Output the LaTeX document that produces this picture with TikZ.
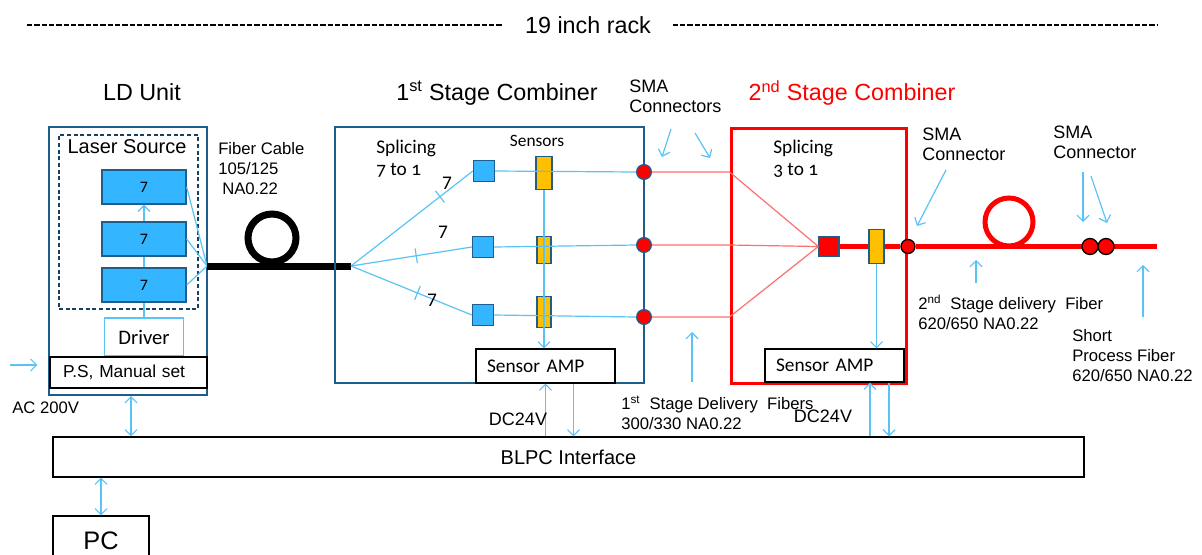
\documentclass[tikz,border=0pt]{standalone}
\usepackage{fontspec}
\setmainfont{Liberation Sans}
\newfontfamily\calfont{Carlito}
\newfontfamily\caloldfont{Carlito}[Numbers=OldStyle]
\usetikzlibrary{arrows.meta}
\definecolor{boxblue}{RGB}{31,93,138}
\definecolor{modblue}{RGB}{51,181,255}
\definecolor{sigblue}{RGB}{90,195,245}
\definecolor{sensyel}{RGB}{255,192,0}
\definecolor{fibred}{RGB}{255,0,0}
\definecolor{fibpink}{RGB}{255,110,110}
\tikzset{
  title/.style={font=\fontsize{17.5}{20}\selectfont,inner sep=0pt},
  lab/.style={font=\fontsize{12.5}{15}\selectfont,align=left,anchor=west,inner sep=0pt},
  cal/.style={font=\calfont\fontsize{14.5}{16.5}\selectfont,inner sep=0pt},
  calold/.style={font=\caloldfont\fontsize{14.5}{16.5}\selectfont,align=left,anchor=west,inner sep=0pt},
  unitbox/.style={draw=boxblue,line width=1.5pt,inner sep=0pt},
  dashbox/.style={draw=boxblue!70!black,line width=0.8pt,dash pattern=on 3pt off 2pt,inner sep=0pt},
  modbox/.style={draw=boxblue,fill=modblue,line width=1pt,inner sep=0pt,minimum width=63pt,minimum height=25.5pt,font=\calfont\fontsize{12}{14}\selectfont},
  drvbox/.style={draw=sigblue,line width=0.9pt,inner sep=0pt,minimum width=59.25pt,minimum height=28.5pt,font=\calfont\fontsize{15.5}{17}\selectfont},
  plainbox/.style={draw=black,fill=white,line width=0.8pt,inner sep=0pt},
  ampbox/.style={plainbox,text width=87.75pt,inner xsep=8.25pt,align=left,minimum height=25.5pt,font=\calfont\fontsize{14.5}{16}\selectfont},
  sqbox/.style={draw=boxblue,fill=modblue,line width=1pt,minimum size=15.75pt,inner sep=0pt},
  sens/.style={draw=boxblue,fill=sensyel,line width=1pt,inner sep=0pt},
  smac/.style={circle,draw=boxblue,fill=fibred,line width=1pt,inner sep=0pt,minimum size=11pt},
  smak/.style={circle,draw=black,fill=fibred,line width=1pt,inner sep=0pt,minimum size=11pt},
  sig/.style={sigblue,line width=0.9pt},
  sigarr/.style={sig,-{Straight Barb[length=4.5pt,width=9pt]}},
  sigboth/.style={sig,{Straight Barb[length=4.5pt,width=9pt]}-{Straight Barb[length=4.5pt,width=9pt]}},
  tickm/.style={draw=sigblue,line width=0.9pt,minimum width=0pt,minimum height=11pt,inner sep=0pt,sloped},
  fibblk/.style={black,line width=5.25pt},
  fibthin/.style={fibpink,line width=0.9pt},
  fibthick/.style={fibred,line width=3.75pt},
  rackdash/.style={black,line width=1.8pt,dash pattern=on 4pt off 1.5pt},
}
\begin{document}
\begin{tikzpicture}[x=0.75pt,y=-0.75pt]
  \useasboundingbox (0,0) rectangle (1202,554);
  % rack
  \node[title,inner xsep=16pt] (rack) at (588,25) {19 inch rack};
  \coordinate (rackL) at (27,25);
  \coordinate (rackR) at (1157,25);
  \draw[rackdash] (rackL) -- (rack.west);
  \draw[rackdash] (rack.east) -- (rackR);
  % LD unit
  \node[title] (ldt) at (142,92) {LD Unit};
  \node[unitbox,minimum width=118.5pt,minimum height=201pt] (ldbox) at (128,261) {};
  \node[dashbox,minimum width=104.25pt,minimum height=130.5pt] (lsbox) at (128.5,222) {};
  \node[font=\fontsize{15}{18}\selectfont,inner sep=0pt] (lstxt) at (127,147) {Laser Source};
  \node[modbox] (ld1) at (144,187) {7};
  \node[modbox] (ld2) at (144,239) {7};
  \node[modbox] (ld3) at (144,285) {7};
  \node[drvbox] (drv) at (144,337) {Driver};
  \node[plainbox,text width=98.25pt,inner xsep=9.75pt,align=left,minimum height=23.25pt,font=\fontsize{13}{15}\selectfont] (ps) at (128.5,372.5) {P.S, Manual set};
  \draw[sig] (drv.north) -- (ld3.south);
  \draw[sig] (ld3.north) -- (ld2.south);
  \draw[sigarr] (ld2.north) -- (ld1.south);
  \coordinate (fibA) at (207,266);
  \coordinate (fibB) at (351,266);
  \draw[sig] (ld1.east) -- (fibA);
  \draw[sig] (ld2.east) -- (fibA);
  \draw[sig] (ld3.east) -- (fibA);
  \coordinate (acS) at (10,365);
  \draw[sigarr,shorten >=9pt] (acS) -- (acS -| ps.west);
  \node[lab,font=\fontsize{12.5}{15}\selectfont] (ac) at (12,408) {AC 200V};
  % fiber cable
  \node[lab] (fibt) at (218,168.5) {Fiber Cable\\105/125\\\hspace{3pt}NA0.22};
  \draw[fibblk] (fibA) -- (fibB);
  \draw[fibblk] (272,238) circle (18pt);
  % 1st stage
  \node[title] (st1t) at (497,93) {1\textsuperscript{st} Stage Combiner};
  \node[unitbox,minimum width=231.75pt,minimum height=192pt] (st1) at (489.5,255) {};
  \node[calold] (spl1) at (376,159) {Splicing\\7 to 1};
  \node[cal,font=\calfont\fontsize{13}{15}\selectfont] (senst) at (537,141) {Sensors};
  \node[sqbox] (sq1) at (484,171) {};
  \node[sqbox] (sq2) at (483,247) {};
  \node[sqbox] (sq3) at (483,315) {};
  \node[sens,minimum width=12pt,minimum height=24.75pt] (sen1) at (544,173) {};
  \node[sens,minimum width=10.5pt,minimum height=20.25pt] (sen2) at (544,250) {};
  \node[sens,minimum width=10.5pt,minimum height=23.25pt] (sen3) at (544,312) {};
  \node[smac] (con1) at (644,172) {};
  \node[smac] (con2) at (644,245) {};
  \node[smac] (con3) at (644,317) {};
  \node[ampbox] (amp1) at (545.5,366) {Sensor AMP};
  \draw[sig] (fibB) -- (sq1.west) node[tickm,pos=0.73] (tk1) {};
  \draw[sig] (fibB) -- (sq2.west) node[tickm,pos=0.54] (tk2) {};
  \draw[sig] (fibB) -- (sq3.west) node[tickm,pos=0.55] (tk3) {};
  \node[cal] (n1) at (447,183) {7};
  \node[cal] (n2) at (443,232) {7};
  \node[cal] (n3) at (432,300) {7};
  \draw[sig] (sq1.east) -- (con1.west);
  \draw[sig] (sq2.east) -- (con2.west);
  \draw[sig] (sq3.east) -- (con3.west);
  \draw[sigarr] (sen1.south) -- (sen1.south |- amp1.north);
  % SMA connectors
  \node[lab,font=\fontsize{13.5}{15}\selectfont] (sma1) at (629,96) {SMA\\Connectors};
  \coordinate (s1a) at (671,129);
  \coordinate (s1b) at (662,157);
  \coordinate (s2a) at (695,133);
  \coordinate (s2b) at (710,158);
  \draw[sigarr] (s1a) -- (s1b);
  \draw[sigarr] (s2a) -- (s2b);
  % 2nd stage
  \node[title,text=fibred] (st2t) at (852,93) {2\textsuperscript{nd} Stage Combiner};
  \node[draw=fibred,line width=2.25pt,inner sep=0pt,minimum width=131.25pt,minimum height=191.25pt] (st2) at (818.5,255.5) {};
  \node[calold] (spl2) at (773,159) {Splicing\\3 to 1};
  \node[draw=boxblue,fill=fibred,line width=1pt,minimum size=15pt,inner sep=0pt] (rsq) at (829,246.5) {};
  \draw[fibthin] (con1.east) -- (con1.east -| st2.west) -- (rsq.west);
  \draw[fibthin] (con2.east) -- (con2.east -| st2.west) -- (rsq.west);
  \draw[fibthin] (con3.east) -- (con3.east -| st2.west) -- (rsq.west);
  \node[sens,minimum width=11.25pt,minimum height=25.5pt] (sen4) at (876.5,246.5) {};
  \node[smak,minimum size=10.5pt] (con4) at (908,246.5) {};
  \coordinate (outEnd) at (1157,246.5);
  \draw[fibthick] (rsq.east) -- (sen4.west);
  \draw[fibthick] (sen4.east) -- (con4.west);
  \draw[fibthick] (con4.east) -- (outEnd);
  \draw[fibthick] (1009,222) circle (18pt);
  \node[smak,minimum size=12pt] (dd1) at (1090,246.5) {};
  \node[smak,minimum size=12pt] (dd2) at (1106,246.5) {};
  \node[ampbox,minimum height=24.75pt] (amp2) at (834.5,365.5) {Sensor AMP};
  \draw[sigarr] (sen4.south) -- (sen4.south |- amp2.north);
  \node[lab,font=\fontsize{13.5}{15}\selectfont] (sma2) at (922,144) {SMA\\Connector};
  \node[lab,font=\fontsize{13.5}{15}\selectfont] (sma3) at (1053,142) {SMA\\Connector};
  \coordinate (s3a) at (946,170);
  \coordinate (s3b) at (917,226);
  \coordinate (s4a) at (1083,172);
  \coordinate (s4b) at (1083,222);
  \coordinate (s5a) at (1091,176);
  \coordinate (s5b) at (1107,223);
  \draw[sigarr] (s3a) -- (s3b);
  \draw[sigarr] (s4a) -- (s4b);
  \draw[sigarr] (s5a) -- (s5b);
  % delivery fibers
  \coordinate (u1a) at (692,382);
  \coordinate (u1b) at (692,332);
  \coordinate (u2a) at (976,283);
  \coordinate (u2b) at (976,260);
  \coordinate (u3a) at (1143,317);
  \coordinate (u3b) at (1143,265);
  \draw[sigarr] (u1a) -- (u1b);
  \draw[sigarr] (u2a) -- (u2b);
  \draw[sigarr] (u3a) -- (u3b);
  \node[lab] (del1) at (621,413) {1\textsuperscript{st}\ \ Stage Delivery\ \ Fibers\\300/330 NA0.22};
  \node[lab] (del2) at (918,312) {2\textsuperscript{nd}\ \ Stage delivery\ \ Fiber\\620/650 NA0.22};
  \node[lab] (spf) at (1072,355.5) {Short\\Process Fiber\\620/650 NA0.22};
  % interface
  \node[plainbox,minimum width=773.25pt,minimum height=30pt,font=\fontsize{15}{18}\selectfont] (blpc) at (568.5,457) {BLPC Interface};
  \node[plainbox,minimum width=72pt,minimum height=37.5pt,font=\fontsize{19}{22}\selectfont] (pc) at (101,541) {PC};
  \draw[sigboth] (ldbox.south) ++(3,0) coordinate (ldb) -- (ldb |- blpc.north);
  \draw[sigboth] (pc.north) -- (pc.north |- blpc.south);
  \draw[sigarr] (amp1.south |- blpc.north) -- (amp1.south);
  \draw[sigarr] ([xshift=21pt]amp1.south) -- ([xshift=21pt]amp1.south |- blpc.north);
  \draw[sigarr] ([xshift=26.6pt]amp2.south |- blpc.north) -- ([xshift=26.6pt]amp2.south);
  \draw[sigarr] ([xshift=40.9pt]amp2.south) -- ([xshift=40.9pt]amp2.south |- blpc.north);
  \node[font=\fontsize{13.5}{15}\selectfont,inner sep=0pt] (dc1) at (518,419) {DC24V};
  \node[font=\fontsize{13.5}{15}\selectfont,inner sep=0pt] (dc2) at (823,416) {DC24V};
\end{tikzpicture}
\end{document}
